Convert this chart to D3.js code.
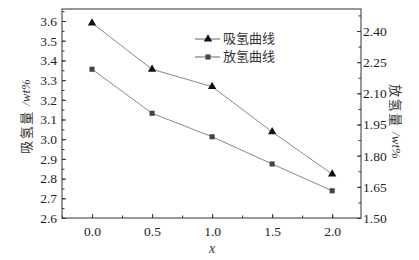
<!DOCTYPE html>
<html>
<head>
<meta charset="utf-8">
<script src="https://cdn.jsdelivr.net/npm/d3@7"></script>
<style>
  body { margin: 0; background: #fff; }
  svg { display: block; }
</style>
</head>
<body>
<div id="chart"></div>
<script>
const xValues = [0.0, 0.5, 1.0, 1.5, 2.0];
const absorb = [3.59, 3.355, 3.267, 3.037, 2.823];
const desorb = [2.216, 2.004, 1.891, 1.760, 1.631];
const xTicks = [0.0, 0.5, 1.0, 1.5, 2.0];
const leftTicks = [2.6, 2.7, 2.8, 2.9, 3.0, 3.1, 3.2, 3.3, 3.4, 3.5, 3.6];
const rightTicks = [1.50, 1.65, 1.80, 1.95, 2.10, 2.25, 2.40];
const legendNames = ["吸氢曲线", "放氢曲线"];

const W = 419, H = 260;
const margin = { top: 9, right: 58, bottom: 42, left: 62 },
      width = W - margin.left - margin.right,
      height = H - margin.top - margin.bottom;

const svg = d3.select("#chart").append("svg")
    .attr("width", W).attr("height", H)
    .append("g")
    .attr("transform", `translate(${margin.left},${margin.top})`);

const x = d3.scaleLinear().domain([-0.25, 2.24]).range([0, width]);
const yL = d3.scaleLinear().domain([2.6, 3.661]).range([height, 0]);
const yR = d3.scaleLinear().domain([1.5, 2.506]).range([height, 0]);

const serif = "'Liberation Serif','Times New Roman',serif";
const cjk = "'Noto Sans CJK SC',sans-serif";
const axisColor = "#333";

// minor ticks
function minor(axisG) {
    axisG.select(".domain").remove();
    axisG.selectAll("line").attr("stroke", axisColor);
}
function major(g) {
    g.select(".domain").remove();
    g.selectAll("line").attr("stroke", axisColor);
    g.selectAll("text").attr("font-family", serif).attr("font-size", "13.5px").attr("fill", "#222");
}

svg.append("g")
    .call(d3.axisLeft(yL).tickValues(d3.range(2.6, 3.66, 0.05)).tickSize(-2.5).tickFormat(""))
    .call(minor);
svg.append("g")
    .call(d3.axisLeft(yL).tickValues(leftTicks).tickSize(-4).tickPadding(5).tickFormat(d3.format(".1f")))
    .call(major);

svg.append("g")
    .attr("transform", `translate(${width},0)`)
    .call(d3.axisRight(yR).tickValues(d3.range(1.5, 2.5, 0.075)).tickSize(-2.5).tickFormat(""))
    .call(minor);
svg.append("g")
    .attr("transform", `translate(${width},0)`)
    .call(d3.axisRight(yR).tickValues(rightTicks).tickSize(-4).tickPadding(2).tickFormat(d3.format(".2f")))
    .call(major);

svg.append("g")
    .attr("transform", `translate(0,${height})`)
    .call(d3.axisBottom(x).tickValues(d3.range(-0.25, 2.25, 0.25)).tickSize(-2.5).tickFormat(""))
    .call(minor);
svg.append("g")
    .attr("transform", `translate(0,${height})`)
    .call(d3.axisBottom(x).tickValues(xTicks).tickSize(-4).tickPadding(8).tickFormat(d3.format(".1f")))
    .call(major);

// frame
svg.append("rect")
    .attr("width", width).attr("height", height)
    .attr("fill", "none").attr("stroke", axisColor).attr("stroke-width", 1);

// axis titles
svg.append("text")
    .attr("transform", `translate(${27 - margin.left},${height / 2 + 3}) rotate(-90)`)
    .attr("text-anchor", "middle").attr("dominant-baseline", "middle")
    .attr("font-size", "13px").attr("fill", "#333")
    .call(t => {
        t.append("tspan").attr("font-family", cjk).attr("letter-spacing", "1.5px").text("吸氢量 ");
        t.append("tspan").attr("font-family", serif).attr("font-style", "italic").text("/wt%");
    });

svg.append("text")
    .attr("transform", `translate(${width + 34},${height / 2 + 8}) rotate(90)`)
    .attr("text-anchor", "middle").attr("dominant-baseline", "middle")
    .attr("font-size", "13px").attr("fill", "#333")
    .call(t => {
        t.append("tspan").attr("font-family", cjk).attr("letter-spacing", "1.5px").text("放氢量 ");
        t.append("tspan").attr("font-family", serif).attr("font-style", "italic").text("/wt%");
    });

svg.append("text")
    .attr("x", x(1.0)).attr("y", height + 35)
    .attr("text-anchor", "middle")
    .attr("font-family", serif).attr("font-style", "italic")
    .attr("font-size", "14px").attr("fill", "#333")
    .text("x");

// lines
const lineA = d3.line().x((d, i) => x(xValues[i])).y(d => yL(d));
const lineD = d3.line().x((d, i) => x(xValues[i])).y(d => yR(d));

svg.append("path").datum(absorb).attr("d", lineA)
    .attr("fill", "none").attr("stroke", "#888").attr("stroke-width", 1);
svg.append("path").datum(desorb).attr("d", lineD)
    .attr("fill", "none").attr("stroke", "#888").attr("stroke-width", 1);

const tri = d3.symbol().type(d3.symbolTriangle).size(30);
const sq = d3.symbol().type(d3.symbolSquare).size(26);

svg.selectAll(".tri").data(absorb).enter().append("path")
    .attr("class", "tri")
    .attr("transform", (d, i) => `translate(${x(xValues[i])},${yL(d)})`)
    .attr("d", tri).attr("fill", "#111");

svg.selectAll(".sq").data(desorb).enter().append("path")
    .attr("class", "sq")
    .attr("transform", (d, i) => `translate(${x(xValues[i])},${yR(d)})`)
    .attr("d", sq).attr("fill", "#444");

// legend
const legend = svg.append("g").attr("transform", `translate(${195 - margin.left},${39 - margin.top})`);
legendNames.forEach((name, i) => {
    const row = legend.append("g").attr("transform", `translate(0,${i * 18})`);
    row.append("line").attr("x1", 0).attr("x2", 25).attr("y1", 0).attr("y2", 0)
        .attr("stroke", "#666").attr("stroke-width", 1);
    row.append("path").attr("transform", "translate(13,0)")
        .attr("d", i === 0 ? tri : sq).attr("fill", i === 0 ? "#111" : "#444");
    row.append("text").attr("x", 28).attr("y", 0)
        .attr("dominant-baseline", "middle")
        .attr("font-family", cjk).attr("font-size", "13px").attr("fill", "#333")
        .text(name);
});
</script>
</body>
</html>
